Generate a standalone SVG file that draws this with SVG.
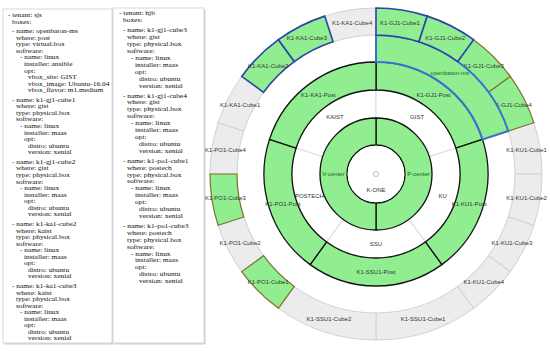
<svg xmlns="http://www.w3.org/2000/svg" width="550" height="351" viewBox="0 0 550 351">
<style>
.yaml{font-family:"Liberation Serif","Times New Roman",serif;fill:#111}
.y1{font-size:5.85px}
.y2{font-size:6.2px}
.lbl{font-family:"Liberation Sans",Arial,sans-serif;font-size:6px;fill:#333;text-anchor:middle}
.glbl{fill:#1f5f1f}
.panel{fill:#fff;stroke:#d8d8d8;stroke-width:1}
.shadow{fill:#cfcfcf}
.gray{fill:#ececec;stroke:#d2d2d2;stroke-width:1}
.green{fill:#90ee90}
.blue{stroke:#2b45a8;stroke-width:1.6}
.lblue{stroke:#3a6fd2;stroke-width:2}
.olive{stroke:#80722e;stroke-width:1.2}
.post{fill:#90ee90;stroke:#111;stroke-width:1.3}
.site{fill:#fff;stroke:#dcdcdc;stroke-width:1}
</style>
<defs>
<path id="c18" d="M0,-166A166,166 0 0 1 51.30,-157.88L42.95,-132.20A139,139 0 0 0 0,-139Z"/>
<path id="c36" d="M0,-166A166,166 0 0 1 97.57,-134.30L81.70,-112.45A139,139 0 0 0 0,-139Z"/>
<path id="o72" d="M0,-139A139,139 0 0 1 132.20,-42.95L106.52,-34.61A112,112 0 0 0 0,-112Z"/>
<path id="p72" d="M0,-112A112,112 0 0 1 106.52,-34.61L79.89,-25.96A84,84 0 0 0 0,-84Z"/>
<path id="s72" d="M0,-84A84,84 0 0 1 79.89,-25.96L53.26,-17.31A56,56 0 0 0 0,-56Z"/>
<path id="h180" d="M0,-56A56,56 0 0 1 0,56L0,29A29,29 0 0 0 0,-29Z"/>
</defs>
<rect width="550" height="351" fill="#fff"/>

<g id="yaml-sjs">
<rect class="shadow" x="4.5" y="10.5" width="109" height="334"/>
<rect class="panel" x="3" y="9" width="109" height="334"/>
<text class="yaml y1" transform="scale(1.26,1)">
<tspan x="6.35" y="17">- tenant: sjs</tspan>
<tspan x="9.52" y="23.54">boxes:</tspan>
<tspan x="9.52" y="33.28">- name: openbaton-ms</tspan>
<tspan x="12.7" y="39.82">where: post</tspan>
<tspan x="12.7" y="46.36">type: virtual.box</tspan>
<tspan x="12.7" y="52.9">software:</tspan>
<tspan x="15.87" y="59.44">- name: linux</tspan>
<tspan x="19.05" y="65.98">installer: ansible</tspan>
<tspan x="19.05" y="72.52">opt:</tspan>
<tspan x="22.22" y="79.06">vbox_site: GIST</tspan>
<tspan x="22.22" y="85.6">vbox_image: Ubuntu-16.04</tspan>
<tspan x="22.22" y="92.14">vbox_flavor: m1.medium</tspan>
<tspan x="9.52" y="101.88">- name: k1-gj1-cube1</tspan>
<tspan x="12.7" y="108.42">where: gist</tspan>
<tspan x="12.7" y="114.96">type: physical.box</tspan>
<tspan x="12.7" y="121.5">software:</tspan>
<tspan x="15.87" y="128.04">- name: linux</tspan>
<tspan x="19.05" y="134.58">installer: maas</tspan>
<tspan x="19.05" y="141.12">opt:</tspan>
<tspan x="22.22" y="147.66">distro: ubuntu</tspan>
<tspan x="22.22" y="154.2">version: xenial</tspan>
<tspan x="9.52" y="163.94">- name: k1-gj1-cube2</tspan>
<tspan x="12.7" y="170.48">where: gist</tspan>
<tspan x="12.7" y="177.02">type: physical.box</tspan>
<tspan x="12.7" y="183.56">software:</tspan>
<tspan x="15.87" y="190.1">- name: linux</tspan>
<tspan x="19.05" y="196.64">installer: maas</tspan>
<tspan x="19.05" y="203.18">opt:</tspan>
<tspan x="22.22" y="209.72">distro: ubuntu</tspan>
<tspan x="22.22" y="216.26">version: xenial</tspan>
<tspan x="9.52" y="226">- name: k1-ka1-cube2</tspan>
<tspan x="12.7" y="232.54">where: kaist</tspan>
<tspan x="12.7" y="239.08">type: physical.box</tspan>
<tspan x="12.7" y="245.62">software:</tspan>
<tspan x="15.87" y="252.16">- name: linux</tspan>
<tspan x="19.05" y="258.7">installer: maas</tspan>
<tspan x="19.05" y="265.24">opt:</tspan>
<tspan x="22.22" y="271.78">distro: ubuntu</tspan>
<tspan x="22.22" y="278.32">version: xenial</tspan>
<tspan x="9.52" y="288.06">- name: k1-ka1-cube3</tspan>
<tspan x="12.7" y="294.6">where: kaist</tspan>
<tspan x="12.7" y="301.14">type: physical.box</tspan>
<tspan x="12.7" y="307.68">software:</tspan>
<tspan x="15.87" y="314.22">- name: linux</tspan>
<tspan x="19.05" y="320.76">installer: maas</tspan>
<tspan x="19.05" y="327.3">opt:</tspan>
<tspan x="22.22" y="333.84">distro: ubuntu</tspan>
<tspan x="22.22" y="340.38">version: xenial</tspan>
</text>
</g>

<g id="yaml-hjb">
<rect class="shadow" x="114.5" y="9.5" width="91" height="335"/>
<rect class="panel" x="113" y="8" width="91" height="335"/>
<text class="yaml y2" transform="scale(1.2,1)">
<tspan x="99.17" y="15.5">- tenant: hjb</tspan>
<tspan x="102.5" y="22.4">boxes:</tspan>
<tspan x="102.5" y="32.4">- name: k1-gj1-cube3</tspan>
<tspan x="105.83" y="39.3">where: gist</tspan>
<tspan x="105.83" y="46.2">type: physical.box</tspan>
<tspan x="105.83" y="53.1">software:</tspan>
<tspan x="109.17" y="60">- name: linux</tspan>
<tspan x="112.5" y="66.9">installer: maas</tspan>
<tspan x="112.5" y="73.8">opt:</tspan>
<tspan x="115.83" y="80.7">distro: ubuntu</tspan>
<tspan x="115.83" y="87.6">version: xenial</tspan>
<tspan x="102.5" y="97.6">- name: k1-gj1-cube4</tspan>
<tspan x="105.83" y="104.5">where: gist</tspan>
<tspan x="105.83" y="111.4">type: physical.box</tspan>
<tspan x="105.83" y="118.3">software:</tspan>
<tspan x="109.17" y="125.2">- name: linux</tspan>
<tspan x="112.5" y="132.1">installer: maas</tspan>
<tspan x="112.5" y="139">opt:</tspan>
<tspan x="115.83" y="145.9">distro: ubuntu</tspan>
<tspan x="115.83" y="152.8">version: xenial</tspan>
<tspan x="102.5" y="162.8">- name: k1-po1-cube1</tspan>
<tspan x="105.83" y="169.7">where: postech</tspan>
<tspan x="105.83" y="176.6">type: physical.box</tspan>
<tspan x="105.83" y="183.5">software:</tspan>
<tspan x="109.17" y="190.4">- name: linux</tspan>
<tspan x="112.5" y="197.3">installer: maas</tspan>
<tspan x="112.5" y="204.2">opt:</tspan>
<tspan x="115.83" y="211.1">distro: ubuntu</tspan>
<tspan x="115.83" y="218">version: xenial</tspan>
<tspan x="102.5" y="228">- name: k1-po1-cube3</tspan>
<tspan x="105.83" y="234.9">where: postech</tspan>
<tspan x="105.83" y="241.8">type: physical.box</tspan>
<tspan x="105.83" y="248.7">software:</tspan>
<tspan x="109.17" y="255.6">- name: linux</tspan>
<tspan x="112.5" y="262.5">installer: maas</tspan>
<tspan x="112.5" y="269.4">opt:</tspan>
<tspan x="115.83" y="276.3">distro: ubuntu</tspan>
<tspan x="115.83" y="283.2">version: xenial</tspan>
</text>
</g>

<g id="sunburst" transform="translate(376,174)">
<g id="k1-ku1-cube1"><use href="#c18" class="gray" transform="rotate(72)"/><text class="lbl" x="150.6" y="-21.9">K1-KU1-Cube1</text></g>
<g id="k1-ku1-cube2"><use href="#c18" class="gray" transform="rotate(90)"/><text class="lbl" x="150.6" y="25.9">K1-KU1-Cube2</text></g>
<g id="k1-ku1-cube3"><use href="#c18" class="gray" transform="rotate(108)"/><text class="lbl" x="135.9" y="71.2">K1-KU1-Cube3</text></g>
<g id="k1-ku1-cube4"><use href="#c18" class="gray" transform="rotate(126)"/><text class="lbl" x="107.8" y="109.8">K1-KU1-Cube4</text></g>
<g id="k1-ssu1-cube1"><use href="#c36" class="gray" transform="rotate(144)"/><text class="lbl" x="47.1" y="147">K1-SSU1-Cube1</text></g>
<g id="k1-ssu1-cube2"><use href="#c36" class="gray" transform="rotate(180)"/><text class="lbl" x="-47.1" y="147">K1-SSU1-Cube2</text></g>
<g id="k1-po1-cube2"><use href="#c18" class="gray" transform="rotate(234)"/><text class="lbl" x="-135.9" y="71.2">K1-PO1-Cube2</text></g>
<g id="k1-po1-cube4"><use href="#c18" class="gray" transform="rotate(270)"/><text class="lbl" x="-150.6" y="-21.9">K1-PO1-Cube4</text></g>
<g id="k1-ka1-cube1"><use href="#c18" class="gray" transform="rotate(288)"/><text class="lbl" x="-135.9" y="-67.2">K1-KA1-Cube1</text></g>
<g id="k1-ka1-cube4"><use href="#c18" class="gray" transform="rotate(342)"/><text class="lbl" x="-23.9" y="-148.6">K1-KA1-Cube4</text></g>

<g id="kaist"><use href="#s72" class="site" transform="rotate(288)"/><text class="lbl" x="-41.1" y="-54.6">KAIST</text></g>
<g id="gist"><use href="#s72" class="site"/><text class="lbl" x="41.1" y="-54.6">GIST</text></g>
<g id="ku"><use href="#s72" class="site" transform="rotate(72)"/><text class="lbl" x="66.6" y="23.6">KU</text></g>
<g id="ssu"><use href="#s72" class="site" transform="rotate(144)"/><text class="lbl" x="0" y="72">SSU</text></g>
<g id="postech"><use href="#s72" class="site" transform="rotate(216)"/><text class="lbl" x="-66.6" y="23.6">POSTECH</text></g>

<g id="k1-gj1-post"><use href="#p72" class="post"/><text class="lbl" x="57.6" y="-77.3">K1-GJ1-Post</text></g>
<g id="k1-ku1-post"><use href="#p72" class="post" transform="rotate(72)"/><text class="lbl" x="93.2" y="32.3">K1-KU1-Post</text></g>
<g id="k1-ssu1-post"><use href="#p72" class="post" transform="rotate(144)"/><text class="lbl" x="0" y="100">K1-SSU1-Post</text></g>
<g id="k1-po1-post"><use href="#p72" class="post" transform="rotate(216)"/><text class="lbl" x="-93.2" y="32.3">K1-PO1-Post</text></g>
<g id="k1-ka1-post"><use href="#p72" class="post" transform="rotate(288)"/><text class="lbl" x="-57.6" y="-77.3">K1-KA1-Post</text></g>

<g id="p-center"><use href="#h180" class="post"/><text class="lbl glbl" x="42.5" y="2">P-center</text></g>
<g id="v-center"><use href="#h180" class="post" transform="rotate(180)"/><text class="lbl glbl" x="-42.5" y="2">V-center</text></g>
<g id="k-one"><circle r="28.3" fill="#fff"/><circle r="2.6" fill="#fff" stroke="#c4c4c4" stroke-width="1"/><text class="lbl" x="0" y="18">K-ONE</text></g>

<g id="k1-gj1-cube3"><use href="#c18" class="green olive" transform="rotate(36)"/><text class="lbl" x="107.8" y="-105.8">K1-GJ1-Cube3</text></g>
<g id="k1-gj1-cube4"><use href="#c18" class="green olive" transform="rotate(54)"/><text class="lbl" x="135.9" y="-67.2">K1-GJ1-Cube4</text></g>
<g id="k1-po1-cube1"><use href="#c18" class="green olive" transform="rotate(216)"/><text class="lbl" x="-107.8" y="109.8">K1-PO1-Cube1</text></g>
<g id="k1-po1-cube3"><use href="#c18" class="green olive" transform="rotate(252)"/><text class="lbl" x="-150.6" y="25.9">K1-PO1-Cube3</text></g>
<g id="openbaton-ms"><use href="#o72" class="green lblue"/><text class="lbl glbl" x="73.8" y="-99.5">openbaton-ms</text></g>
<g id="k1-gj1-cube1"><use href="#c18" class="green blue"/><text class="lbl" x="23.9" y="-148.6">K1-GJ1-Cube1</text></g>
<g id="k1-gj1-cube2"><use href="#c18" class="green blue" transform="rotate(18)"/><text class="lbl" x="69.2" y="-133.9">K1-GJ1-Cube2</text></g>
<g id="k1-ka1-cube2"><use href="#c18" class="green blue" transform="rotate(306)"/><text class="lbl" x="-107.8" y="-105.8">K1-KA1-Cube2</text></g>
<g id="k1-ka1-cube3"><use href="#c18" class="green blue" transform="rotate(324)"/><text class="lbl" x="-69.2" y="-133.9">K1-KA1-Cube3</text></g>
</g>
<g id="connectors"/>
</svg>
